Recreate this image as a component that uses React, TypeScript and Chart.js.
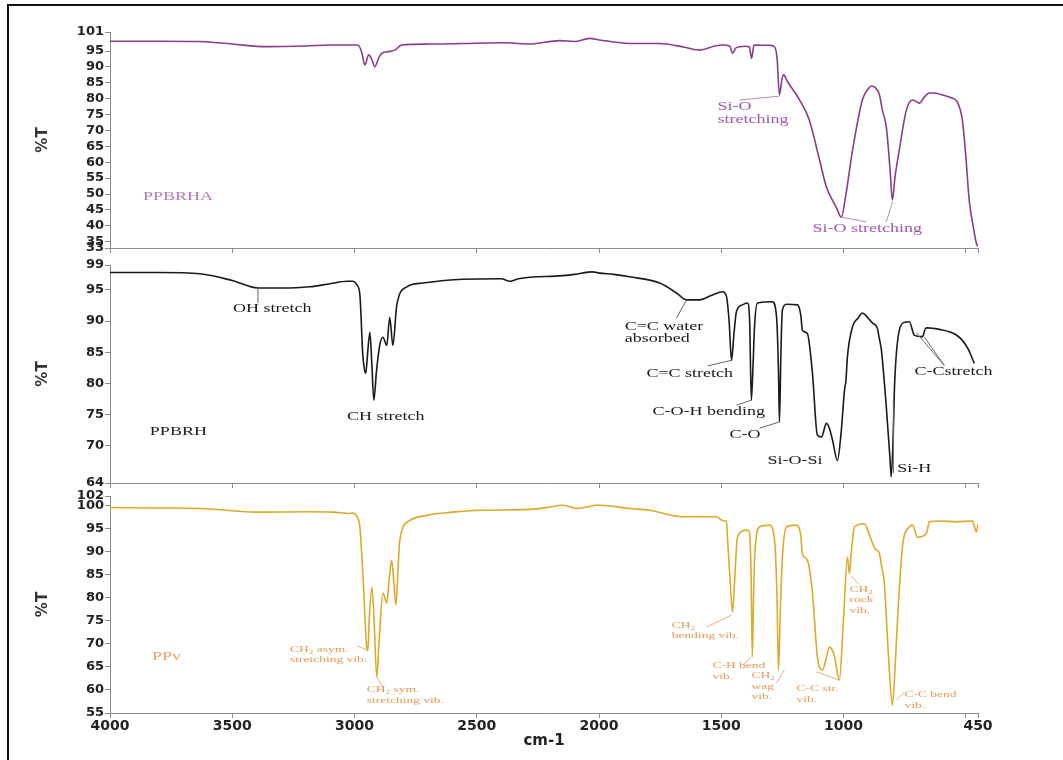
import React, { useEffect, useRef } from 'react';
import { Chart, registerables } from 'chart.js';

Chart.register(...registerables);

const W = 1063;
const H = 760;

// ---- shared x axis (wavenumber, cm-1) ----
const xTickValues = [4000, 3500, 3000, 2500, 2000, 1500, 1000, 500, 450];
const xTickLabels = ['4000', '3500', '3000', '2500', '2000', '1500', '1000', '', '450'];

// ---- PPBRHA (top) ----
const ppbrhaWavenumber = [
  4000, 3800, 3632, 3500, 3359, 3200, 3100, 2986, 2970, 2958, 2942, 2930, 2917, 2900, 2889, 2864, 2835, 2807,
  2700, 2557, 2378, 2284, 2161, 2100, 2038, 1998, 1875, 1752, 1650, 1589, 1530, 1495, 1465, 1454, 1440, 1400,
  1385, 1376, 1366, 1300, 1282, 1272, 1262, 1252, 1245, 1230, 1180, 1140, 1098, 1070, 1030, 1009, 990, 963,
  923, 900, 886, 870, 853, 840, 825, 810, 800, 790, 772, 743, 718, 700, 690, 670, 649, 620, 596, 560, 535, 514,
  500, 486, 470, 457, 450,
];
const ppbrhaT = [
  98.1, 98.1, 98.0, 97.2, 96.4, 96.6, 96.9, 96.9, 94.5, 90.6, 93.8, 92.5, 90.1, 93.0, 94.3, 94.8, 95.3, 96.9,
  97.2, 97.4, 97.6, 97.2, 98.3, 98.0, 99.0, 98.5, 97.4, 97.4, 96.2, 95.3, 96.5, 96.9, 96.5, 94.3, 96.0, 96.5,
  96.3, 92.7, 96.9, 96.8, 96.3, 93.0, 81.2, 86.0, 87.5, 85.5, 79.6, 73.3, 60.7, 52.2, 45.9, 42.7, 50.0, 63.8,
  79.6, 83.0, 84.0, 83.5, 81.2, 76.0, 71.1, 58.0, 48.1, 55.0, 63.8, 76.4, 79.6, 79.0, 78.6, 80.5, 81.8, 81.7,
  81.2, 80.3, 79.0, 73.3, 62.0, 48.1, 40.0, 34.6, 33.5,
];
const ppbrhaYTicks = [101, 95, 90, 85, 80, 75, 70, 65, 60, 55, 50, 45, 40, 35, 33];

// ---- PPBRH (middle) ----
const ppbrhWavenumber = [
  4000, 3800, 3632, 3500, 3395, 3300, 3183, 3100, 3031, 3007, 2990, 2978, 2966, 2958, 2954, 2945, 2937, 2929,
  2921, 2910, 2897, 2884, 2868, 2856, 2843, 2827, 2786, 2721, 2557, 2400, 2365, 2330, 2149, 2100, 2026, 1998,
  1940, 1875, 1752, 1683, 1642, 1589, 1536, 1495, 1479, 1468, 1458, 1448, 1438, 1413, 1393, 1384, 1377, 1370,
  1364, 1352, 1291, 1274, 1266, 1262, 1256, 1250, 1233, 1188, 1175, 1168, 1148, 1127, 1107, 1090, 1075, 1070,
  1058, 1045, 1025, 1010, 996, 990, 984, 963, 940, 923, 902, 882, 862, 855, 845, 825, 810, 805, 795, 792, 772,
  750, 731, 710, 677, 665, 657, 600, 567, 540, 514, 490, 465,
];
const ppbrhT = [
  97.8, 97.8, 97.6, 96.5, 95.3, 95.3, 95.5, 96.0, 96.4, 96.4, 95.8, 94.2, 84.5, 82.0, 81.6, 85.5, 88.2, 83.0,
  77.3, 82.0, 86.1, 87.4, 86.1, 90.6, 86.1, 92.6, 95.5, 96.1, 96.7, 96.8, 96.4, 96.8, 97.3, 97.5, 97.9, 97.7,
  97.5, 97.1, 96.1, 94.5, 93.4, 93.4, 94.2, 94.7, 94.0, 90.0, 83.7, 88.0, 91.5, 92.6, 92.9, 90.0, 77.3, 83.0,
  89.1, 92.9, 93.1, 90.7, 82.0, 73.8, 85.0, 91.8, 92.7, 92.6, 91.0, 88.5, 88.0, 81.6, 71.7, 71.4, 73.2, 73.6,
  72.8, 70.9, 67.6, 72.0, 78.9, 80.5, 84.3, 89.1, 90.5, 91.3, 90.6, 89.7, 88.9, 87.5, 85.3, 76.2, 68.0, 65.0,
  74.0, 78.9, 88.5, 89.8, 89.9, 87.7, 87.5, 88.8, 88.9, 88.6, 88.3, 87.8, 86.9, 85.5, 83.2,
];
const ppbrhYTicks = [99, 95, 90, 85, 80, 75, 70, 64];

// ---- PPv (bottom) ----
const ppvWavenumber = [
  4000, 3800, 3632, 3500, 3395, 3200, 3089, 3019, 3007, 2990, 2978, 2966, 2950, 2945, 2940, 2929, 2920, 2909,
  2900, 2884, 2868, 2858, 2848, 2840, 2831, 2822, 2815, 2774, 2705, 2600, 2488, 2284, 2200, 2149, 2120, 2092,
  2050, 2010, 1998, 1875, 1793, 1658, 1519, 1495, 1479, 1474, 1464, 1454, 1444, 1434, 1397, 1385, 1378, 1373,
  1368, 1364, 1344, 1303, 1282, 1272, 1266, 1258, 1250, 1233, 1193, 1175, 1168, 1148, 1127, 1107, 1086, 1070,
  1058, 1045, 1037, 1017, 1001, 984, 976, 968, 955, 915, 900, 886, 870, 853, 845, 833, 816, 800, 790, 780, 759,
  731, 718, 698, 661, 649, 600, 539, 473, 465, 457, 450,
];
const ppvT = [
  99.5, 99.4, 99.3, 98.8, 98.5, 98.6, 98.5, 98.2, 98.3, 97.5, 95.3, 85.3, 69.3, 68.5, 75.0, 82.3, 75.0, 62.8,
  70.0, 81.0, 78.8, 84.0, 88.1, 84.0, 78.4, 86.0, 92.4, 96.7, 97.8, 98.5, 98.9, 99.1, 99.6, 100.0, 99.7, 99.3,
  99.6, 100.0, 100.0, 99.3, 98.9, 97.5, 97.5, 96.7, 96.5, 92.4, 84.0, 76.9, 85.0, 93.1, 94.6, 94.2, 85.0, 67.2,
  80.0, 88.1, 95.3, 95.7, 92.4, 80.0, 64.3, 78.0, 88.8, 95.3, 95.7, 93.5, 89.5, 88.1, 80.9, 67.2, 64.3, 67.0,
  69.3, 68.5, 67.2, 62.1, 74.4, 88.8, 85.2, 90.0, 95.3, 96.0, 94.5, 92.4, 90.5, 89.5, 87.0, 83.1, 67.2, 56.7,
  64.0, 74.4, 91.0, 95.3, 95.7, 93.1, 93.9, 96.4, 96.6, 96.4, 96.6, 95.5, 94.2, 96.0,
];
const ppvYTicks = [102, 100, 95, 90, 85, 80, 75, 70, 65, 60, 55];

// ---- annotation texts (anchored at wavenumber / %T) ----
type Label = { lines: string[]; v: number; t: number; size: number; lh: number; color: string };
type Leader = [number, number, number, number];

const ppbrhaLabels: Label[] = [
  { lines: ['PPBRHA'], v: 3865, t: 49.0, size: 12, lh: 12, color: '#b27bb6' },
  { lines: ['Si-O', 'stretching'], v: 1515, t: 77.4, size: 12, lh: 12.5, color: '#a05aa6' },
  { lines: ['Si-O stretching'], v: 1127, t: 39.0, size: 12, lh: 12, color: '#a05aa6' },
];
const ppbrhaLeaders: Leader[] = [
  [1425, 79.6, 1262, 80.8],
  [907, 41.2, 1009, 42.7],
  [825, 41.2, 800, 47.5],
];

const ppbrhLabels: Label[] = [
  { lines: ['PPBRH'], v: 3837, t: 72.2, size: 12, lh: 12, color: '#1a1a1a' },
  { lines: ['OH stretch'], v: 3497, t: 91.9, size: 12, lh: 12, color: '#1a1a1a' },
  { lines: ['CH stretch'], v: 3031, t: 74.7, size: 12, lh: 12, color: '#1a1a1a' },
  { lines: ['C=C water', 'absorbed'], v: 1895, t: 89.0, size: 12, lh: 12, color: '#1a1a1a' },
  { lines: ['C=C stretch'], v: 1806, t: 81.6, size: 12, lh: 12, color: '#1a1a1a' },
  { lines: ['C-O-H bending'], v: 1781, t: 75.5, size: 12, lh: 12, color: '#1a1a1a' },
  { lines: ['C-O'], v: 1466, t: 71.7, size: 12, lh: 12, color: '#1a1a1a' },
  { lines: ['Si-O-Si'], v: 1311, t: 67.5, size: 12, lh: 12, color: '#1a1a1a' },
  { lines: ['Si-H'], v: 780, t: 66.2, size: 12, lh: 12, color: '#1a1a1a' },
  { lines: ['C-Cstretch'], v: 710, t: 81.8, size: 12, lh: 12, color: '#1a1a1a' },
];
const ppbrhLeaders: Leader[] = [
  [3395, 95.3, 3395, 92.9],
  [1683, 90.5, 1642, 93.4],
  [1556, 82.8, 1458, 83.7],
  [1438, 76.5, 1377, 77.3],
  [1344, 72.8, 1262, 73.8],
  [796, 77.3, 796, 65.6],
  [588, 82.9, 702, 88.1],
  [588, 82.9, 669, 87.4],
];

const ppvLabels: Label[] = [
  { lines: ['PPv'], v: 3828, t: 67.1, size: 12, lh: 12, color: '#e8a466' },
  { lines: ['CH\u2082 asym.', 'stretching vib.'], v: 3264, t: 68.8, size: 9, lh: 10.5, color: '#e39a55' },
  { lines: ['CH\u2082 sym.', 'stretching vib.'], v: 2950, t: 60.0, size: 9, lh: 10.5, color: '#e39a55' },
  { lines: ['CH\u2082', 'bending vib.'], v: 1703, t: 74.0, size: 9, lh: 10.5, color: '#e39a55' },
  { lines: ['C-H bend', 'vib.'], v: 1536, t: 65.2, size: 9, lh: 10.5, color: '#e39a55' },
  { lines: ['CH\u2082', 'wag', 'vib.'], v: 1376, t: 63.0, size: 9, lh: 10.5, color: '#e39a55' },
  { lines: ['C-C str.', 'vib.'], v: 1192, t: 60.2, size: 9, lh: 10.5, color: '#e39a55' },
  { lines: ['CH\u2082', 'rock', 'vib.'], v: 976, t: 81.8, size: 9, lh: 10.5, color: '#e39a55' },
  { lines: ['C-C bend', 'vib.'], v: 751, t: 58.9, size: 9, lh: 10.5, color: '#e39a55' },
];
const ppvLeaders: Leader[] = [
  [2987, 69.5, 2946, 68.6],
  [2909, 62.8, 2884, 60.6],
  [1560, 73.6, 1458, 76.2],
  [1413, 65.4, 1376, 67.1],
  [1274, 61.5, 1242, 64.3],
  [1111, 63.9, 1017, 62.1],
  [968, 84.6, 935, 82.8],
  [784, 57.8, 751, 59.5],
];

type PanelCfg = {
  wn: number[];
  t: number[];
  color: string;
  yMin: number;
  yMax: number;
  yTicks: number[];
  padTop: number;
  padBottom: number;
  xHeight: number;
  showX: boolean;
  labels: Label[];
  leaders: Leader[];
  leaderColor: string;
};

const panels: PanelCfg[] = [
  {
    wn: ppbrhaWavenumber, t: ppbrhaT, color: '#8a3c8c', yMin: 33, yMax: 101, yTicks: ppbrhaYTicks,
    padTop: 32, padBottom: 502, xHeight: 10, showX: false,
    labels: ppbrhaLabels, leaders: ppbrhaLeaders, leaderColor: '#b58bb8',
  },
  {
    wn: ppbrhWavenumber, t: ppbrhT, color: '#1a1a1a', yMin: 64, yMax: 99, yTicks: ppbrhYTicks,
    padTop: 265, padBottom: 267, xHeight: 10, showX: false,
    labels: ppbrhLabels, leaders: ppbrhLeaders, leaderColor: '#666666',
  },
  {
    wn: ppvWavenumber, t: ppvT, color: '#dcaa2c', yMin: 55, yMax: 102, yTicks: ppvYTicks,
    padTop: 496, padBottom: 10, xHeight: 37, showX: true,
    labels: ppvLabels, leaders: ppvLeaders, leaderColor: '#e0b080',
  },
];

const axisColor = '#8c8c8c';
const tickFont = 'DejaVu Sans';

function Panel({ p, idx }: { p: PanelCfg; idx: number }) {
  const ref = useRef<HTMLCanvasElement | null>(null);

  useEffect(() => {
    if (!ref.current) return;
    const annot = {
      id: 'annot' + idx,
      afterDatasetsDraw(chart: any) {
        const ctx = chart.ctx as CanvasRenderingContext2D;
        const xs = chart.scales.x;
        const ys = chart.scales.y;
        ctx.save();
        ctx.strokeStyle = p.leaderColor;
        ctx.lineWidth = 1;
        p.leaders.forEach(([v1, t1, v2, t2]) => {
          ctx.beginPath();
          ctx.moveTo(xs.getPixelForValue(v1), ys.getPixelForValue(t1));
          ctx.lineTo(xs.getPixelForValue(v2), ys.getPixelForValue(t2));
          ctx.stroke();
        });
        p.labels.forEach((l) => {
          ctx.font = `${l.size}px "Liberation Serif", "Times New Roman", serif`;
          ctx.fillStyle = l.color;
          ctx.textBaseline = 'middle';
          ctx.textAlign = 'left';
          const px = xs.getPixelForValue(l.v);
          const py = ys.getPixelForValue(l.t);
          l.lines.forEach((s, i) => {
            ctx.save();
            ctx.translate(px, py + i * l.lh);
            ctx.scale(1.5, 1);
            ctx.fillText(s, 0, 0);
            ctx.restore();
          });
        });
        ctx.restore();
      },
    };

    const chart = new Chart(ref.current, {
      type: 'line',
      data: {
        datasets: [
          {
            data: p.wn.map((v, i) => ({ x: v, y: p.t[i] })),
            borderColor: p.color,
            borderWidth: 1.6,
            pointRadius: 0,
            fill: false,
            cubicInterpolationMode: 'monotone',
          } as any,
        ],
      },
      options: {
        responsive: false,
        animation: false,
        events: [],
        layout: { padding: { left: 0, right: 85, top: p.padTop, bottom: p.padBottom } },
        plugins: {
          legend: { display: false },
          tooltip: { enabled: false },
          title: { display: false },
        },
        scales: {
          x: {
            type: 'linear',
            reverse: true,
            min: 450,
            max: 4000,
            afterBuildTicks: (s: any) => {
              s.ticks = xTickValues.map((v) => ({ value: v }));
            },
            afterFit: (s: any) => {
              s.height = p.xHeight;
            },
            ticks: {
              autoSkip: false,
              maxRotation: 0,
              minRotation: 0,
              padding: 0,
              color: '#222',
              font: { family: tickFont, weight: 'bold', size: 14 },
              callback: (_v: any, i: number) => (p.showX ? xTickLabels[i] : ''),
            },
            grid: { display: true, drawOnChartArea: false, drawTicks: true, tickLength: 5, color: axisColor },
            border: { display: true, color: axisColor, width: 1 },
            title: {
              display: p.showX,
              text: 'cm-1',
              color: '#222',
              font: { family: tickFont, weight: 'bold', size: 15 },
              padding: 0,
            },
          },
          y: {
            type: 'linear',
            min: p.yMin,
            max: p.yMax,
            afterBuildTicks: (s: any) => {
              s.ticks = p.yTicks.map((v) => ({ value: v }));
            },
            afterFit: (s: any) => {
              s.width = 110;
            },
            ticks: {
              autoSkip: false,
              padding: 1,
              color: '#222',
              font: { family: tickFont, weight: 'bold', size: 13, lineHeight: 1 },
            },
            grid: { display: true, drawOnChartArea: false, drawTicks: true, tickLength: 5, color: axisColor },
            border: { display: true, color: axisColor, width: 1 },
            title: {
              display: true,
              text: '%T',
              color: '#333',
              font: { family: tickFont, weight: 'bold', size: 15 },
              padding: { top: 34, bottom: 0 },
            },
          },
        },
      } as any,
      plugins: [annot],
    });
    return () => chart.destroy();
  }, []);

  return (
    <canvas
      ref={ref}
      width={W}
      height={H}
      style={{ position: 'absolute', left: 0, top: 0, width: W, height: H }}
    />
  );
}

export default function App() {
  return (
    <div
      style={{
        position: 'absolute',
        left: 0,
        top: 0,
        width: W,
        height: H,
        overflow: 'hidden',
        background: '#ffffff',
      }}
    >
      <div
        style={{
          position: 'absolute',
          left: 7,
          top: 4,
          width: W + 20,
          height: H + 20,
          borderTop: '2px solid #111',
          borderLeft: '2px solid #111',
        }}
      />
      {panels.map((p, i) => (
        <Panel key={i} p={p} idx={i} />
      ))}
    </div>
  );
}
